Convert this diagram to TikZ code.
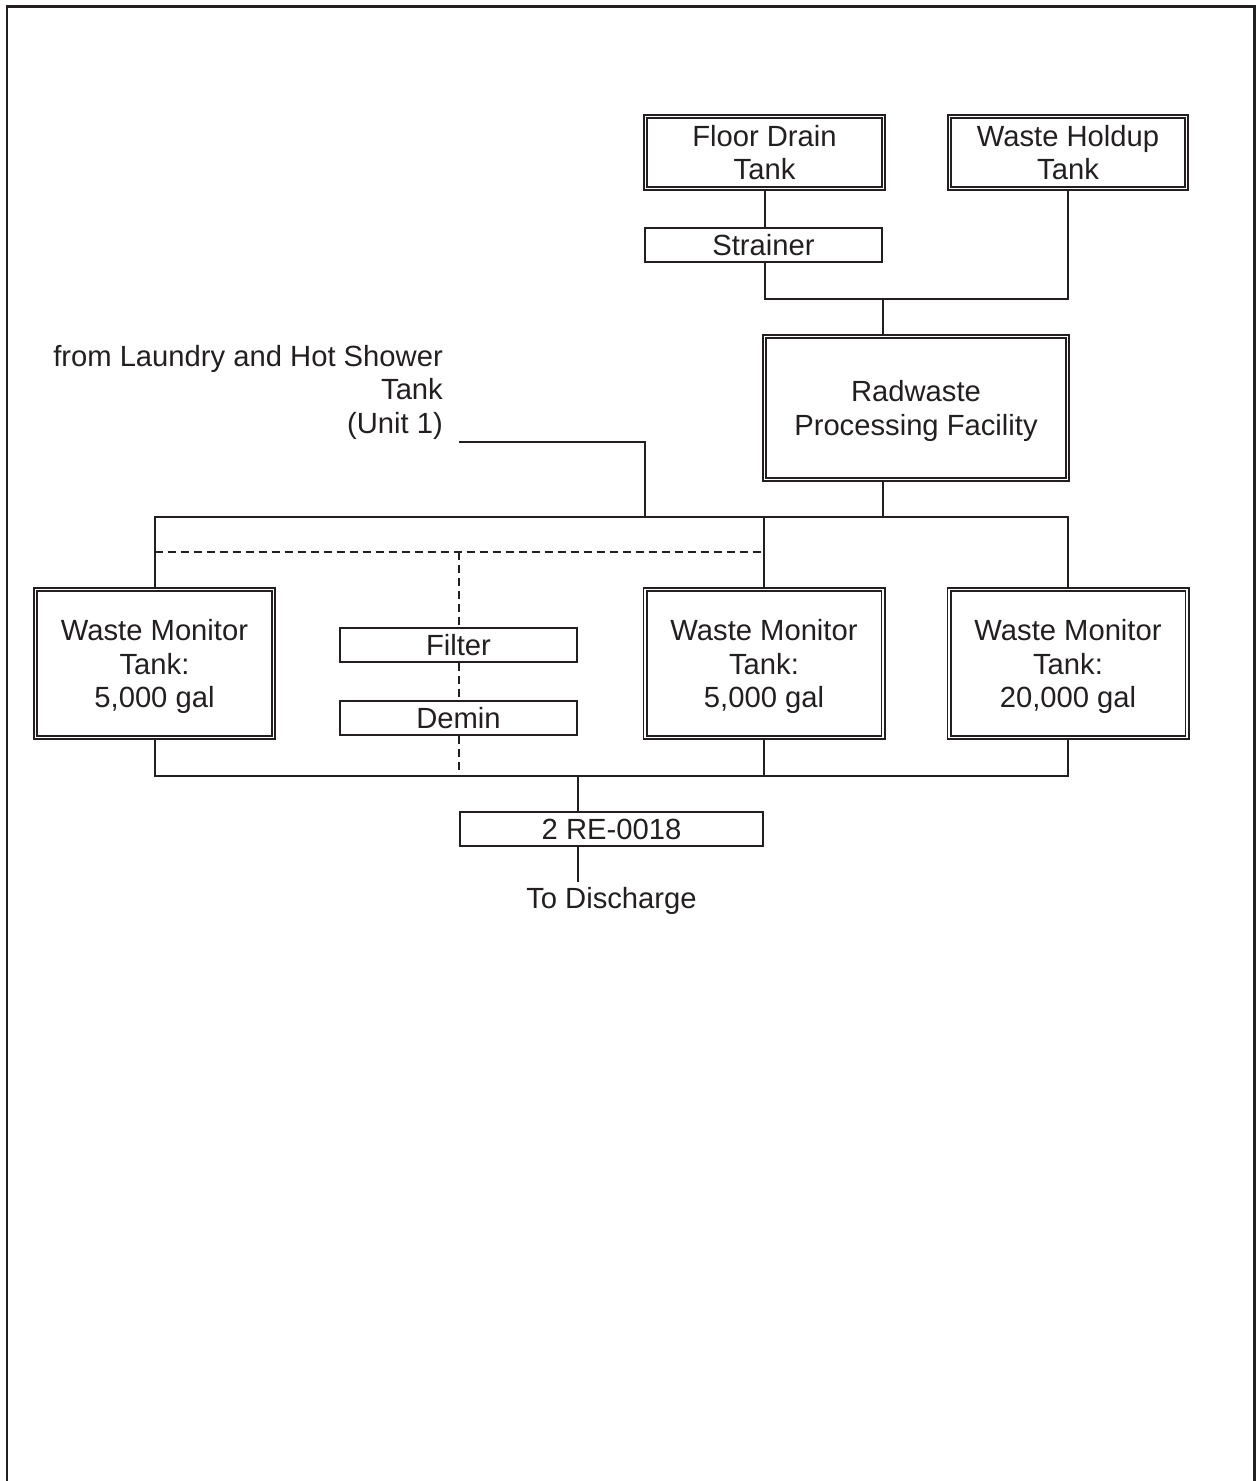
\documentclass[tikz,border=0pt]{standalone}
\usepackage{fontspec}
\setmainfont{Liberation Sans}
\definecolor{ink}{RGB}{35,31,32}
\begin{document}
\begin{tikzpicture}[x=1pt,y=-1pt,
  every node/.style={font=\fontsize{29.2}{33.5}\selectfont, text=ink, align=center, inner sep=0pt, text depth=0pt},
  tank/.style={draw=ink, line width=1.9pt, double=white, double distance=1.2pt, outer sep=2.5pt, minimum width=238pt, minimum height=148pt},
  unitbox/.style={draw=ink, line width=2pt, outer sep=1pt, minimum width=237pt, minimum height=34pt},
  pipe/.style={draw=ink, line width=2pt},
  dpipe/.style={pipe, dash pattern=on 8pt off 5pt}]
\useasboundingbox (0,0) rectangle (1257,1481);
% outer frame (open at the bottom)
\draw[ink, line width=2.7pt] (7,1481) -- (7,6.2) -- (1254.7,6.2) -- (1254.7,1481);

% nodes
\node[tank, minimum height=72pt] (fd) at (764.5,152.5) {Floor Drain\\Tank};
\node[tank, minimum width=237pt, minimum height=72pt] (wh) at (1068,152.5) {Waste Holdup\\Tank};
\node[unitbox] (st) at (763.5,245) {Strainer};
\node[tank, minimum width=303pt, minimum height=143pt] (rw) at (916,408) {Radwaste\\Processing Facility};
\node[anchor=east, align=right] (ld) at (443,389) {from Laundry and Hot Shower\\Tank\\(Unit 1)};
\node[tank] (wm1) at (154.5,663.5) {Waste Monitor\\Tank:\\5,000 gal};
\node[tank] (wm2) at (764,663.5) {Waste Monitor\\Tank:\\5,000 gal};
\node[tank] (wm3) at (1068,663.5) {Waste Monitor\\Tank:\\20,000 gal};
\node[unitbox] (fi) at (458.5,645) {Filter};
\node[unitbox] (de) at (458.5,718) {Demin};
\node[unitbox, minimum width=303pt] (re) at (611.5,829) {2 RE-0018};
\node[anchor=base] (dis) at (611.5,908) {To Discharge};

% helper coordinates
\coordinate (j1) at (883,299);
\coordinate (bus) at (0,517);
\coordinate (dsh) at (0,552);
\coordinate (bbus) at (0,776);
\coordinate (lin) at (459,442);
\coordinate (lj) at (645,517);
\coordinate (j2) at (578,776);
\coordinate (dend) at (578,882);

% connectors
\draw[pipe] (fd.south) -- (fd.south |- st.north);
\draw[pipe] (fd.south |- st.south) |- (j1) -| (wh.south);
\draw[pipe] (j1) -- (j1 |- rw.north);
\draw[pipe] (j1 |- rw.south) -- (j1 |- bus);
\draw[pipe] (wm1.north) |- (wm3.north |- bus) -- (wm3.north);
\draw[pipe] (wm2.north) -- (wm2.north |- bus);
\draw[pipe] (lin) -| (lj);
\draw[dpipe] (wm1.north |- dsh) -- (wm2.north |- dsh);
\draw[dpipe] (fi.north |- dsh) -- (fi.north);
\draw[dpipe] (fi.south) -- (de.north);
\draw[dpipe] (de.south) -- (de.south |- bbus);
\draw[pipe] (wm1.south) |- (wm3.south |- bbus) -- (wm3.south);
\draw[pipe] (wm2.south) -- (wm2.south |- bbus);
\draw[pipe] (j2) -- (j2 |- re.north);
\draw[pipe] (j2 |- re.south) -- (dend);
\end{tikzpicture}
\end{document}
